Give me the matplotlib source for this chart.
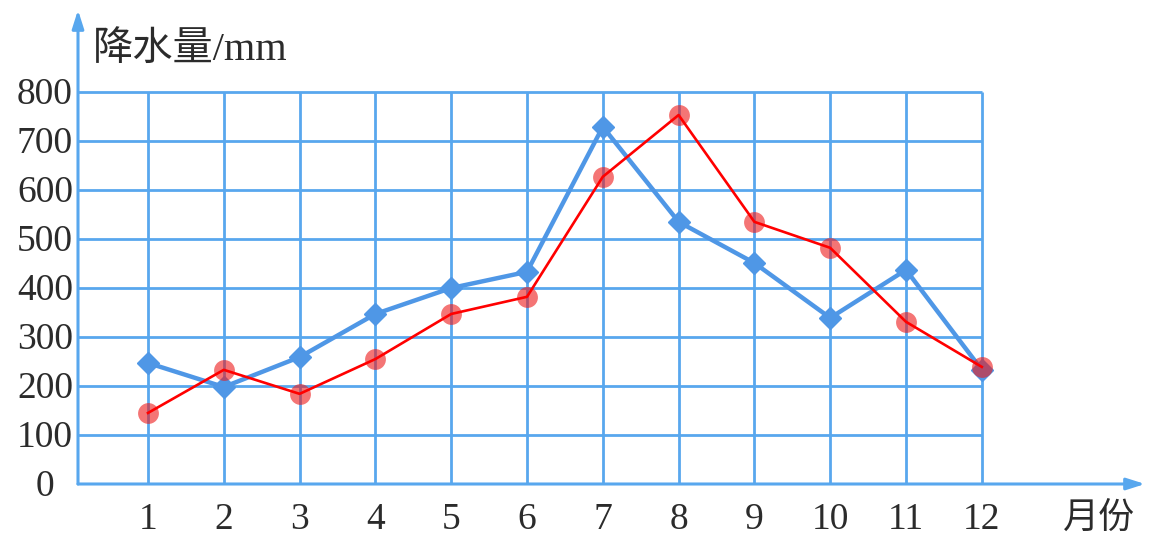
import matplotlib.pyplot as plt
import numpy as np

plt.rcParams['font.family'] = ['Liberation Serif', 'Noto Sans CJK SC']

# 月份 and the two rainfall series (mm)
months = [1, 2, 3, 4, 5, 6, 7, 8, 9, 10, 11, 12]
blue_vals = [247, 198, 259, 347, 400, 433, 729, 535, 451, 339, 437, 233]
red_vals = [145, 233, 184, 255, 347, 382, 627, 753, 535, 482, 331, 239]
y_ticks = [0, 100, 200, 300, 400, 500, 600, 700, 800]

grid_c = '#58A7EE'
blue_c = '#4F97E6'
text_c = '#2B2B2B'

fig = plt.figure(figsize=(11.61, 5.48), dpi=100)
ax = fig.add_axes([78 / 1161, 64 / 548, 1067 / 1161, 474 / 548])
ax.set_xlim(1 - 70 / 75.8, 1 + 997 / 75.8)
ax.set_ylim(0, 474 / 0.49)
ax.axis('off')

x0 = ax.get_xlim()[0]

# grid
for yv in y_ticks[1:]:
    ax.plot([x0, months[-1]], [yv, yv], color=grid_c, lw=2.0, zorder=1,
            solid_capstyle='butt')
for m in months:
    ax.plot([m, m], [0, y_ticks[-1]], color=grid_c, lw=2.0, zorder=1,
            solid_capstyle='butt')

# axes with arrows
ax.annotate('', xy=(ax.get_xlim()[1], 0), xytext=(x0, 0),
            arrowprops=dict(arrowstyle='-|>,head_length=1.1,head_width=0.35',
                            color=grid_c, lw=2.2, shrinkA=0, shrinkB=0), zorder=2)
ax.annotate('', xy=(x0, ax.get_ylim()[1]), xytext=(x0, 0),
            arrowprops=dict(arrowstyle='-|>,head_length=1.1,head_width=0.35',
                            color=grid_c, lw=2.2, shrinkA=0, shrinkB=0), zorder=2)

# series
ax.plot(months, blue_vals, color=blue_c, lw=3.2, marker='D', ms=11,
        zorder=3)
ax.plot(months, red_vals, color='#FF0000', lw=1.9, zorder=5)
ax.plot(months, red_vals, ls='none', marker='o', ms=15,
        markerfacecolor=(0.93, 0.1, 0.1, 0.6), markeredgecolor='none', zorder=4)

# tick labels (centred in the left margin, like the original)
for yv in y_ticks:
    ax.text(x0 - 33 / 75.8, yv - 6, str(yv), ha='center', va='center',
            fontsize=27, color=text_c)
for m in months:
    ax.text(m, -72, str(m), ha='center', va='center', fontsize=27,
            color=text_c)

ax.text(x0 + 0.2, 885, '降水量/mm', ha='left', va='center', fontsize=29,
        color=text_c)
ax.text(13.55, -72, '月份', ha='center', va='center', fontsize=26,
        color=text_c)

fig.savefig('out.png', dpi=100)
